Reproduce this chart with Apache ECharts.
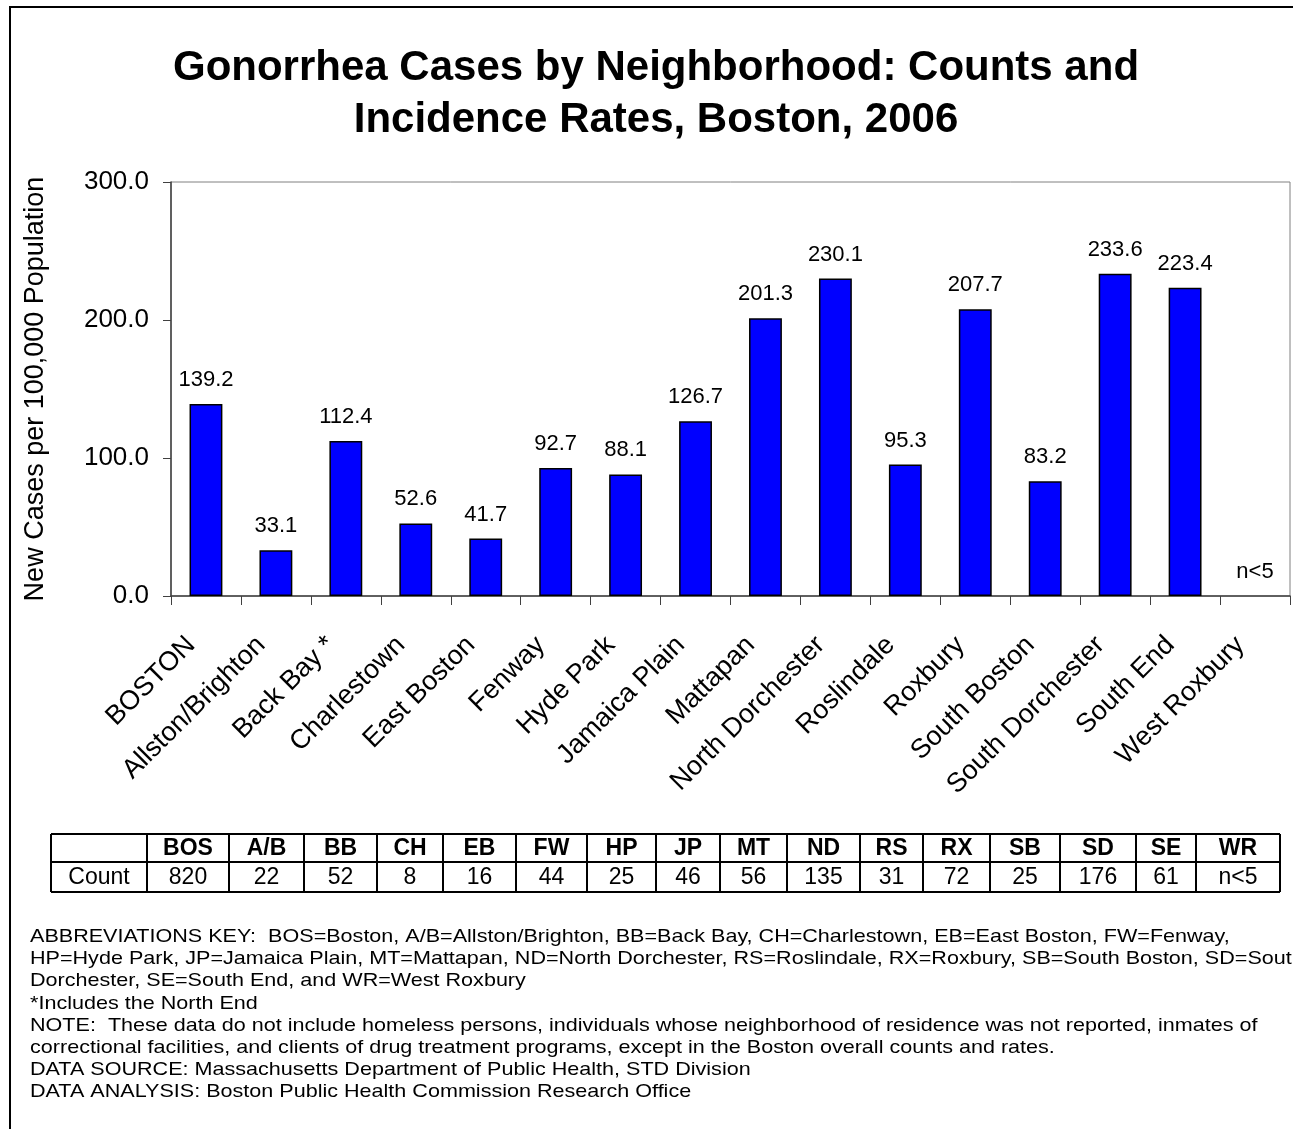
<!DOCTYPE html>
<html>
<head>
<meta charset="utf-8">
<script src="https://cdn.jsdelivr.net/npm/echarts@6/dist/echarts.min.js"></script>
<style>
  html, body { margin: 0; padding: 0; background: #fff; }
  #chart { width: 1293px; height: 1129px; }
</style>
</head>
<body>
<div id="chart"></div>
<script>
// Neighborhood names along the x axis
const neighborhoods = ['BOSTON', 'Allston/Brighton', 'Back Bay *', 'Charlestown', 'East Boston', 'Fenway',
  'Hyde Park', 'Jamaica Plain', 'Mattapan', 'North Dorchester', 'Roslindale', 'Roxbury',
  'South Boston', 'South Dorchester', 'South End', 'West Roxbury'];
// Incidence rate per 100,000 (null = suppressed, fewer than 5 cases)
const rates = [139.2, 33.1, 112.4, 52.6, 41.7, 92.7, 88.1, 126.7, 201.3, 230.1, 95.3, 207.7, 83.2, 233.6, 223.4, null];
// Count table
const abbreviations = ['BOS', 'A/B', 'BB', 'CH', 'EB', 'FW', 'HP', 'JP', 'MT', 'ND', 'RS', 'RX', 'SB', 'SD', 'SE', 'WR'];
const counts = ['820', '22', '52', '8', '16', '44', '25', '46', '56', '135', '31', '72', '25', '176', '61', 'n<5'];
const suppressedText = 'n<5';
const yTicks = [0, 100, 200, 300];

const footnotes = [
  'ABBREVIATIONS KEY:  BOS=Boston, A/B=Allston/Brighton, BB=Back Bay, CH=Charlestown, EB=East Boston, FW=Fenway,',
  'HP=Hyde Park, JP=Jamaica Plain, MT=Mattapan, ND=North Dorchester, RS=Roslindale, RX=Roxbury, SB=South Boston, SD=South',
  'Dorchester, SE=South End, and WR=West Roxbury',
  '*Includes the North End',
  'NOTE:  These data do not include homeless persons, individuals whose neighborhood of residence was not reported, inmates of',
  'correctional facilities, and clients of drug treatment programs, except in the Boston overall counts and rates.',
  'DATA SOURCE: Massachusetts Department of Public Health, STD Division',
  'DATA ANALYSIS: Boston Public Health Commission Research Office'
];

const FONT = '"Liberation Sans", Arial, Helvetica, sans-serif';

// Table layout (column edges in px, row edges in px)
const colEdges = [51, 147, 229, 304, 377, 443, 516, 587, 656, 720, 787, 860, 923, 990, 1060, 1136, 1196, 1280];
const rowEdges = [834, 862, 892];

function buildTable() {
  const els = [];
  const left = colEdges[0], right = colEdges[colEdges.length - 1];
  rowEdges.forEach(y => els.push({
    type: 'line', shape: { x1: left, y1: y, x2: right, y2: y },
    style: { stroke: '#000', lineWidth: 2 }
  }));
  colEdges.forEach(x => els.push({
    type: 'line', shape: { x1: x, y1: rowEdges[0], x2: x, y2: rowEdges[2] },
    style: { stroke: '#000', lineWidth: 2 }
  }));
  els.push({
    type: 'text', x: (colEdges[0] + colEdges[1]) / 2, y: (rowEdges[1] + rowEdges[2]) / 2 + 1,
    style: { text: 'Count', font: '23px ' + FONT, fill: '#000', align: 'center', verticalAlign: 'middle' }
  });
  abbreviations.forEach((ab, i) => {
    const cx = (colEdges[i + 1] + colEdges[i + 2]) / 2;
    els.push({
      type: 'text', x: cx, y: (rowEdges[0] + rowEdges[1]) / 2 + 1,
      style: { text: ab, font: 'bold 23px ' + FONT, fill: '#000', align: 'center', verticalAlign: 'middle' }
    });
    els.push({
      type: 'text', x: cx, y: (rowEdges[1] + rowEdges[2]) / 2 + 1,
      style: { text: counts[i], font: '23px ' + FONT, fill: '#000', align: 'center', verticalAlign: 'middle' }
    });
  });
  return els;
}

function buildFootnotes() {
  return footnotes.map((line, i) => ({
    type: 'text', x: 30, y: 937 + i * 22.1,
    scaleX: 1.135, originX: 0, originY: 0,
    style: { text: line, font: '19px ' + FONT, fill: '#000', align: 'left', verticalAlign: 'middle' }
  }));
}

const chart = echarts.init(document.getElementById('chart'), null, { renderer: 'canvas' });

chart.setOption({
  animation: false,
  backgroundColor: '#fff',
  title: {
    text: 'Gonorrhea Cases by Neighborhood: Counts and\nIncidence Rates, Boston, 2006',
    left: 656,
    textAlign: 'center',
    top: 42,
    padding: 0,
    textStyle: { fontFamily: FONT, fontWeight: 'bold', fontSize: 42, lineHeight: 52, color: '#000' }
  },
  grid: {
    left: 171, top: 182, right: 3, bottom: 533,
    show: true, borderColor: '#808080', borderWidth: 1,
    outerBoundsMode: 'none'
  },
  xAxis: {
    type: 'category',
    data: neighborhoods,
    axisLine: { lineStyle: { color: '#404040', width: 1.5 } },
    axisTick: { show: true, length: 9, lineStyle: { color: '#404040' } },
    axisLabel: {
      rotate: 45, interval: 0, margin: 30, padding: [0, 21, 0, 0],
      fontFamily: FONT, fontSize: 27, color: '#000'
    }
  },
  yAxis: {
    type: 'value',
    min: 0, max: 300, interval: 100,
    name: 'New Cases per 100,000 Population',
    nameLocation: 'middle',
    nameGap: 122,
    nameTextStyle: { fontFamily: FONT, fontSize: 27, color: '#000' },
    splitLine: { show: false },
    axisLine: { show: true, lineStyle: { color: '#404040', width: 1.5 } },
    axisTick: { show: true, length: 8, lineStyle: { color: '#404040' } },
    axisLabel: {
      margin: 22, fontFamily: FONT, fontSize: 26, color: '#000',
      formatter: v => yTicks.includes(v) ? v.toFixed(1) : ''
    }
  },
  series: [{
    type: 'bar',
    barWidth: '47%',
    data: rates.map(v => v === null
      ? { value: 0, label: { formatter: suppressedText }, itemStyle: { borderWidth: 0 } }
      : v),
    itemStyle: { color: '#0000ff', borderColor: '#000', borderWidth: 1.5 },
    label: {
      show: true, position: 'top', distance: 13,
      fontFamily: FONT, fontSize: 22, color: '#000',
      formatter: p => p.value.toFixed(1)
    }
  }],
  graphic: [
    // outer frame (left and top edges)
    {
      type: 'polyline',
      shape: { points: [[10, 1135], [10, 7], [1300, 7]] },
      style: { stroke: '#000', lineWidth: 2, fill: null }
    },
    ...buildTable(),
    ...buildFootnotes()
  ]
});
</script>
</body>
</html>
